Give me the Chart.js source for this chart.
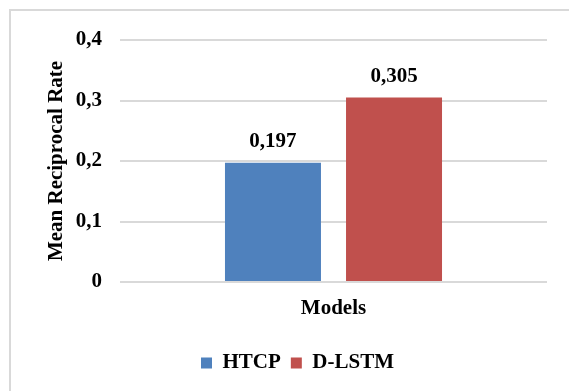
<!DOCTYPE html>
<html>
<head>
<meta charset="utf-8">
<script src="https://cdn.jsdelivr.net/npm/chart.js@4"></script>
<style>
  html, body { margin: 0; padding: 0; background: #fff; overflow: hidden; }
  #frame { position: absolute; left: 9px; top: 9px; width: 620px; height: 420px; border: 2px solid #d9d9d9; }
  #chart { position: absolute; left: 0; top: 0; }
</style>
</head>
<body>
<div id="frame"></div>
<canvas id="chart" width="569" height="391"></canvas>
<script>
var categories = ['Models'];
var seriesNames = ['HTCP', 'D-LSTM'];
var htcpValues = [0.197];
var dlstmValues = [0.305];
var yTicks = [0, 0.1, 0.2, 0.3, 0.4];

var serif = "'Liberation Serif', 'Times New Roman', serif";

function fmt(v) {
  if (v === 0) return '0';
  return String(v).replace('.', ',');
}

// numbers above the bars
var valueLabels = {
  id: 'valueLabels',
  afterDatasetsDraw: function(chart) {
    var ctx = chart.ctx;
    ctx.save();
    ctx.font = 'bold 21px ' + serif;
    ctx.fillStyle = '#000';
    ctx.textAlign = 'center';
    ctx.textBaseline = 'alphabetic';
    chart.data.datasets.forEach(function(ds, i) {
      chart.getDatasetMeta(i).data.forEach(function(bar, j) {
        ctx.fillText(fmt(ds.data[j]), bar.x, bar.y - 15.5);
      });
    });
    ctx.restore();
  }
};

// the original legend sits a bit right of the canvas centre
var legendShift = {
  id: 'legendShift',
  afterLayout: function(chart) {
    chart.legend.left += 24;
    chart.legend.right += 24;
  }
};

var ctx = document.getElementById('chart').getContext('2d');
new Chart(ctx, {
  type: 'bar',
  data: {
    labels: categories,
    datasets: [{
      label: seriesNames[0],
      data: htcpValues,
      backgroundColor: '#4F81BD',
      barPercentage: 0.793,
      categoryPercentage: 0.567
    }, {
      label: seriesNames[1],
      data: dlstmValues,
      backgroundColor: '#C0504D',
      barPercentage: 0.793,
      categoryPercentage: 0.567
    }]
  },
  options: {
    responsive: false,
    animation: false,
    layout: { padding: { left: 0, right: 22, top: 40, bottom: 7.5 } },
    scales: {
      x: {
        grid: { display: false },
        border: { display: false },
        ticks: {
          color: '#000',
          padding: 6,
          font: { family: serif, size: 21, weight: 'bold' }
        },
        afterFit: function(scale) { scale.height = 60.5; }
      },
      y: {
        min: 0,
        max: 0.4,
        afterBuildTicks: function(scale) {
          scale.ticks = yTicks.map(function(v) { return { value: v }; });
        },
        grid: { color: '#d9d9d9', lineWidth: 2, drawTicks: false },
        border: { display: false },
        ticks: {
          color: '#000',
          padding: 18,
          font: { family: serif, size: 21, weight: 'bold' },
          callback: function(v) { return fmt(Math.round(v * 10) / 10); }
        },
        title: {
          display: true,
          text: 'Mean Reciprocal Rate',
          color: '#000',
          padding: { top: 43.5, bottom: 0 },
          font: { family: serif, size: 21, weight: 'bold' }
        },
        afterFit: function(scale) { scale.width = 120; }
      }
    },
    plugins: {
      legend: {
        position: 'bottom',
        labels: {
          color: '#000',
          boxWidth: 11,
          boxHeight: 11,
          padding: 10,
          font: { family: serif, size: 21, weight: 'bold' }
        }
      },
      tooltip: { enabled: false }
    }
  },
  plugins: [valueLabels, legendShift]
});
</script>
</body>
</html>
